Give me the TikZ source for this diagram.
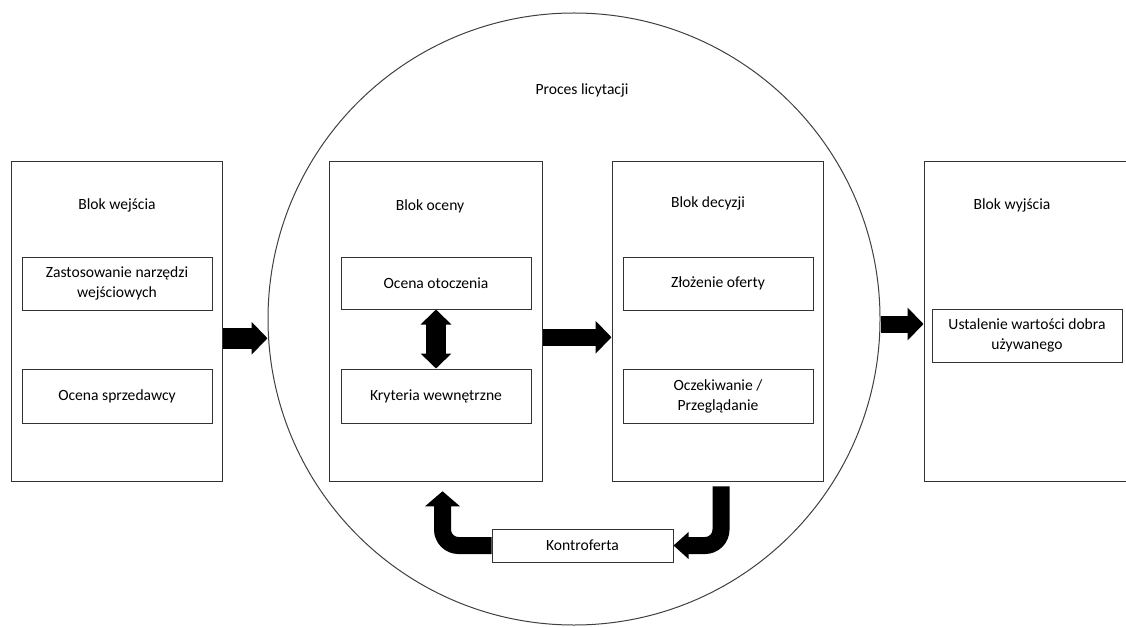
\documentclass[tikz,border=0pt]{standalone}
\usepackage{fontspec}
\setmainfont{Carlito}
\usetikzlibrary{arrows.meta}
\def\u{0.75pt}
\tikzset{
  frame/.style={draw=black!80, line width=1*\u, inner sep=0pt},
  outer/.style={frame, minimum height=320*\u},
  inner/.style={frame, minimum width=190*\u, minimum height=53*\u, align=center, font=\fontsize{11.7}{15}\selectfont},
  lbl/.style={inner sep=0pt, font=\fontsize{11.7}{15}\selectfont},
  bigarrow/.style={line width=#1*\u, -{Triangle[length=16*\u, width=32*\u]}},
}
\begin{document}
\begin{tikzpicture}[x=\u, y=-\u]
\clip (0,0) rectangle (1126,627);
\fill[white] (0,0) rectangle (1126,627);
% circle
\node[circle, draw=black!75, line width=1*\u, minimum size=612*\u, inner sep=0pt] (proc) at (574,319) {};
\node[lbl] (proclbl) at (582,90) {Proces licytacji};
% outer blocks
\node[outer, minimum width=211*\u] (wej) at (116.5,321.75) {};
\node[outer, minimum width=213*\u] (oceny) at (435.5,321.75) {};
\node[outer, minimum width=211*\u] (decyzji) at (717.5,321.75) {};
\node[outer, minimum width=206*\u] (wyj) at (1027,321.75) {};
% titles
\node[lbl] (twej) at (117,205) {Blok wejścia};
\node[lbl] (toceny) at (430,206) {Blok oceny};
\node[lbl] (tdec) at (708,203) {Blok decyzji};
\node[lbl] (twyj) at (1012,205) {Blok wyjścia};
% inner boxes
\node[inner] (narz) at (117,283.5) {Zastosowanie narzędzi\\wejściowych};
\node[inner, minimum height=54*\u] (sprz) at (117,396) {Ocena sprzedawcy};
\node[inner, minimum height=52*\u] (otocz) at (436,283) {Ocena otoczenia};
\node[inner, minimum height=54*\u] (kryt) at (436,396) {Kryteria wewnętrzne};
\node[inner] (oferta) at (718,283.5) {Złożenie oferty};
\node[inner, minimum height=54*\u] (oczek) at (718,396) {Oczekiwanie /\\Przeglądanie};
\node[inner] (ustal) at (1027,335.5) {Ustalenie wartości dobra\\używanego};
\node[inner, minimum width=181*\u, minimum height=33*\u] (kontr) at (582.5,545.5) {Kontroferta};
% arrows
\draw[bigarrow=21] ([yshift=-16.5*\u]wej.east) -- ([yshift=-16.5*\u]wej.east -| proc.west);
\draw[bigarrow=17] ([yshift=-15.5*\u]oceny.east) -- ([yshift=-15.5*\u]decyzji.west);
\draw[bigarrow=17] ([yshift=-5*\u]proc.east) -- ([yshift=-5*\u]proc.east -| wyj.west);
\draw[line width=20*\u, {Triangle[length=15*\u, width=30*\u]}-{Triangle[length=15*\u, width=30*\u]}] (otocz.south) -- (kryt.north);
\draw[line width=17*\u, rounded corners=16*\u, -{Triangle[length=15*\u, width=34*\u]}] (kontr.west) -| ([xshift=7*\u, yshift=-9*\u]oceny.south);
\draw[line width=17*\u, rounded corners=16*\u, -{Triangle[length=15*\u, width=26*\u]}] ([xshift=3.5*\u, yshift=-4*\u]decyzji.south) |- (kontr.east);
\end{tikzpicture}
\end{document}
